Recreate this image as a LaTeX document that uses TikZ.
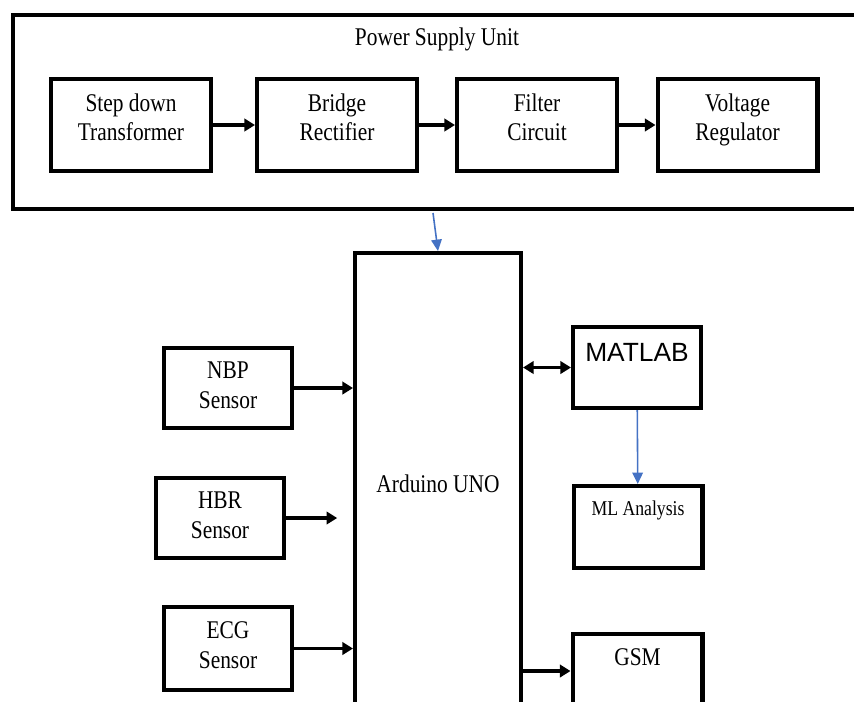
\documentclass[tikz,border=0pt]{standalone}
\usepackage{fontspec}
\setmainfont{Liberation Serif}[FakeStretch=0.84]
\newfontfamily\matfont{Liberation Sans}
\usepackage{tikz}
\usetikzlibrary{arrows.meta, calc, positioning}

\definecolor{linkblue}{RGB}{68,114,196}

\begin{document}
\begin{tikzpicture}[x=0.02cm, y=-0.02cm,
    blk/.style={draw, line width=2.3pt, align=center, inner sep=0pt,
                font=\fontsize{14.5}{17}\selectfont},
    sbox/.style={blk, minimum width=2.56cm, minimum height=1.6cm, text depth=3.5pt},
    psbox/.style={blk, minimum width=3.2cm, minimum height=1.84cm, text depth=9pt},
    arr/.style={line width=2.2pt, -{Triangle[length=6pt, width=7pt]}},
    darr/.style={line width=2.2pt, {Triangle[length=6pt, width=7pt]}-{Triangle[length=6pt, width=7pt]}},
    blu/.style={linkblue, line width=0.9pt, -{Triangle[length=6.5pt, width=6pt]}}]

    % =================================================================
    % 1. PAGE FRAME
    % =================================================================
    \useasboundingbox (0,0) rectangle (854,701);
    \clip (0,0) rectangle (854,701);

    % =================================================================
    % 2. POWER SUPPLY UNIT
    % =================================================================
    \node[draw, line width=2.3pt, minimum width=17.1cm, minimum height=3.88cm] (psu) at (440.5,112) {};
    \node[font=\fontsize{14.5}{17}\selectfont] (psutitle) at (437,39) {Power Supply Unit};

    \node[psbox] (sdt) at (131,125) {Step down\\Transformer};
    \node[psbox] (bri) at (337,125) {Bridge\\Rectifier};
    \node[psbox] (fil) at (537,125) {Filter\\Circuit};
    \node[psbox] (vr)  at (737.5,125) {Voltage\\Regulator};

    \draw[arr] (sdt) -- (bri);
    \draw[arr] (bri) -- (fil);
    \draw[arr] (fil) -- (vr);

    % =================================================================
    % 3. CONTROLLER AND SENSORS
    % =================================================================
    \node[blk, minimum width=3.32cm, minimum height=9.24cm] (ard) at (438,484) {Arduino UNO};

    \node[sbox] (nbp) at (228,388) {NBP\\Sensor};
    \node[sbox] (hbr) at (220,518) {HBR\\Sensor};
    \node[sbox, minimum height=1.66cm] (ecg) at (228,648.5) {ECG\\Sensor};

    \draw[arr] (nbp.east) -- (nbp.east -| ard.west);
    \draw[arr, shorten >=9pt] (hbr.east) -- (hbr.east -| ard.west);
    \draw[arr] (ecg.east) -- (ecg.east -| ard.west);

    % supply line into the controller
    \coordinate (pin) at (433,213);
    \draw[blu] (pin) -- (ard.north);

    % =================================================================
    % 4. OUTPUT SIDE
    % =================================================================
    \node[blk, minimum width=2.56cm, minimum height=1.62cm] (matlab) at (637,367.5) {};
    \node[blk, minimum width=2.58cm, minimum height=1.64cm] (ml) at (638,527) {};
    \node[blk, minimum width=2.6cm, minimum height=1.48cm] (gsm) at (637.5,671) {};

    \node[below=0.24cm of matlab.north, font=\matfont\fontsize{15}{18}\selectfont] (matlabtxt) {MATLAB};
    \node[below=0.22cm of ml.north, font=\fontsize{12}{14}\selectfont] (mltxt) {ML Analysis};
    \node[below=0.2cm of gsm.north, font=\fontsize{14.5}{17}\selectfont] (gsmtxt) {GSM};

    \draw[darr] (matlab.west -| ard.east) -- (matlab.west);
    \draw[blu] (matlab) -- (ml);
    \draw[arr] (gsm.west -| ard.east) -- (gsm.west);

\end{tikzpicture}
\end{document}
